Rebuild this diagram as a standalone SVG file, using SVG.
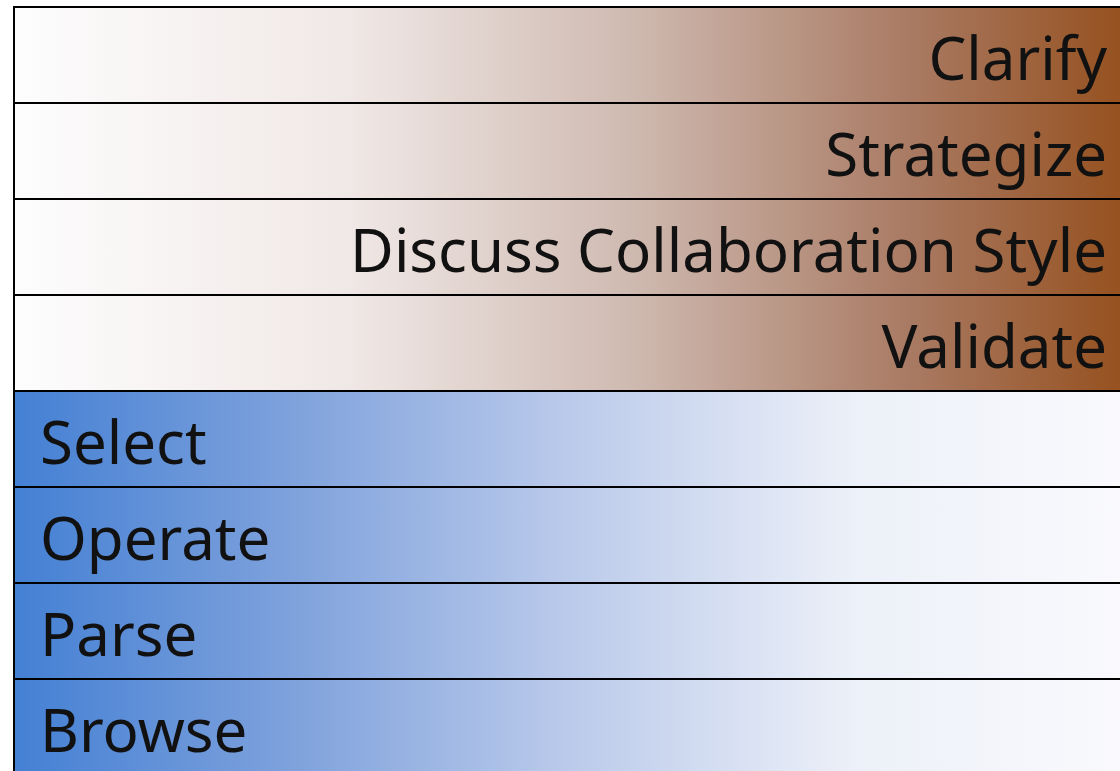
<svg xmlns="http://www.w3.org/2000/svg" width="1120" height="771" viewBox="0 0 1120 771">
  <defs>
    <linearGradient id="gradWarm" x1="0" y1="0" x2="1" y2="0">
      <stop offset="0" stop-color="#fdfdfd"/>
      <stop offset="0.3" stop-color="#f0e8e6"/>
      <stop offset="0.55" stop-color="#cfbab1"/>
      <stop offset="0.8" stop-color="#a97a63"/>
      <stop offset="1" stop-color="#954f1c"/>
    </linearGradient>
    <linearGradient id="gradCool" x1="0" y1="0" x2="1" y2="0">
      <stop offset="0" stop-color="#4480d4"/>
      <stop offset="0.25" stop-color="#7fa2dc"/>
      <stop offset="0.5" stop-color="#bccbeb"/>
      <stop offset="0.75" stop-color="#ecf0f8"/>
      <stop offset="1" stop-color="#fafafd"/>
    </linearGradient>
    <style>
      .warm { fill: url(#gradWarm); stroke: #000; stroke-width: 2; }
      .cool { fill: url(#gradCool); stroke: #000; stroke-width: 2; }
      .lbl { font-family: "Noto Sans", "Open Sans", sans-serif; font-size: 60px; fill: #111; }
      .right { text-anchor: end; }
    </style>
  </defs>

  <g id="row-clarify">
    <rect class="warm" x="14" y="7" width="1120" height="96"/>
    <text class="lbl right" x="1107" y="80">Clarify</text>
  </g>
  <g id="row-strategize">
    <rect class="warm" x="14" y="103" width="1120" height="96"/>
    <text class="lbl right" x="1107" y="176">Strategize</text>
  </g>
  <g id="row-discuss">
    <rect class="warm" x="14" y="199" width="1120" height="96"/>
    <text class="lbl right" x="1107" y="272">Discuss Collaboration Style</text>
  </g>
  <g id="row-validate">
    <rect class="warm" x="14" y="295" width="1120" height="96"/>
    <text class="lbl right" x="1107" y="368">Validate</text>
  </g>
  <g id="row-select">
    <rect class="cool" x="14" y="391" width="1120" height="96"/>
    <text class="lbl" x="40" y="464">Select</text>
  </g>
  <g id="row-operate">
    <rect class="cool" x="14" y="487" width="1120" height="96"/>
    <text class="lbl" x="40" y="560">Operate</text>
  </g>
  <g id="row-parse">
    <rect class="cool" x="14" y="583" width="1120" height="96"/>
    <text class="lbl" x="40" y="656">Parse</text>
  </g>
  <g id="row-browse">
    <rect class="cool" x="14" y="679" width="1120" height="96"/>
    <text class="lbl" x="40" y="752">Browse</text>
  </g>
</svg>
